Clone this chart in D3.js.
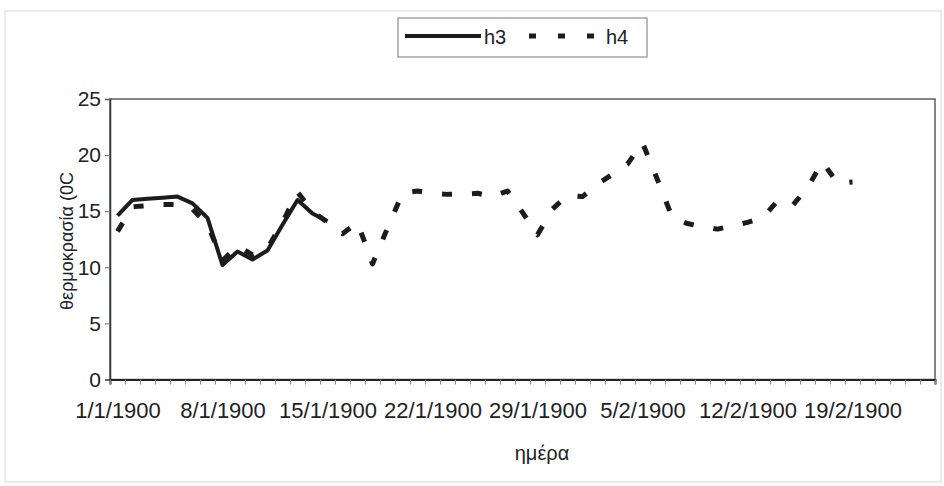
<!DOCTYPE html>
<html>
<head>
<meta charset="utf-8">
<script src="https://cdn.jsdelivr.net/npm/d3@7"></script>
<style>
  html, body { margin: 0; padding: 0; background: #ffffff; }
  svg { display: block; }
  text { font-family: Arial, "Liberation Sans", sans-serif; fill: #222; }
</style>
</head>
<body>
<svg id="chart" width="944" height="486"></svg>
<script>
// ---- data ----
const startDate = "1/1/1900";
const endDate = "25/2/1900";           // axis ends here (exclusive day boundary)
const seriesNames = ["h3", "h4"];
const h3 = [14.6, 16.0, 16.1, 16.2, 16.3, 15.7, 14.4, 10.2, 11.4, 10.7,
            11.5, 13.8, 16.0, 14.8, 14.1];
const h4 = [13.2, 15.4, 15.5, 15.6, 15.6, 15.2, 13.8, 10.6, 11.9, 11.1,
            11.7, 14.0, 16.7, 15.0, 14.0, 13.0, 14.0, 10.3, 13.5, 16.6,
            16.8, 16.6, 16.5, 16.5, 16.6, 16.3, 16.8, 14.9, 12.9, 15.2,
            16.4, 16.3, 17.4, 18.3, 19.2, 21.1, 17.8, 14.4, 13.9, 13.6,
            13.4, 13.7, 14.0, 14.4, 15.9, 15.5, 17.1, 19.4, 17.5, 17.6];
const xTickLabels = ["1/1/1900", "8/1/1900", "15/1/1900", "22/1/1900",
                     "29/1/1900", "5/2/1900", "12/2/1900", "19/2/1900"];
const yTicks = [0, 5, 10, 15, 20, 25];
const yTitle = "θερμοκρασία (0C";
const xTitle = "ημέρα";

// ---- layout ----
const FONT = "Arial, 'Liberation Sans', sans-serif";
const parse = d3.utcParse("%d/%m/%Y");
const fmt = d3.utcFormat("%-d/%-m/%Y");
const t0 = parse(startDate), t1 = parse(endDate);
const mid = d => d3.utcHour.offset(d, 12);
const dateAt = i => d3.utcDay.offset(t0, i);

const plot = { left: 110, right: 935, top: 99, bottom: 379.5 };
const x = d3.scaleUtc().domain([t0, t1]).range([plot.left, plot.right]);
const y = d3.scaleLinear().domain([0, 25]).range([plot.bottom, plot.top]);

const svg = d3.select("#chart");

// outer faint frame
svg.append("rect").attr("x", 5).attr("y", 11).attr("width", 936).attr("height", 471)
  .attr("fill", "none").attr("stroke", "#d8d8d8").attr("stroke-width", 1);

// plot area border
svg.append("rect").attr("x", plot.left).attr("y", plot.top)
  .attr("width", plot.right - plot.left).attr("height", plot.bottom - plot.top)
  .attr("fill", "#fff").attr("stroke", "#5a5f63").attr("stroke-width", 1.5);

// y axis
const yAxis = svg.append("g").attr("transform", `translate(${plot.left},0)`)
  .call(d3.axisLeft(y).tickValues(yTicks).tickSize(5).tickPadding(4).tickFormat(d3.format("d")));
yAxis.select(".domain").attr("stroke", "#333").attr("stroke-width", 1.5);
yAxis.selectAll(".tick line").attr("stroke", "#666");
yAxis.selectAll("text").attr("font-size", 21).style("font-family", FONT).attr("fill", "#222");

// x axis: daily minor ticks at day boundaries
const xMinor = svg.append("g").attr("transform", `translate(0,${plot.bottom})`)
  .call(d3.axisBottom(x).ticks(d3.utcDay.every(1)).tickSize(5).tickFormat(""));
xMinor.select(".domain").attr("stroke", "#222").attr("stroke-width", 2);
xMinor.selectAll(".tick line").attr("stroke", "#888");

// x axis labels centred on their day
const xLab = svg.append("g").attr("transform", `translate(0,${plot.bottom})`)
  .call(d3.axisBottom(x).tickValues(xTickLabels.map(s => mid(parse(s))))
    .tickSize(0).tickPadding(23).tickFormat(fmt));
xLab.select(".domain").remove();
xLab.selectAll("text").attr("font-size", 22).style("font-family", FONT).attr("fill", "#222");

// axis titles
svg.append("text").attr("x", 542).attr("y", 460).attr("text-anchor", "middle")
  .attr("font-size", 20).text(xTitle);
svg.append("text").attr("transform", "translate(73,241) rotate(-90)")
  .attr("text-anchor", "middle").attr("font-size", 18).text(yTitle);

// lines
const line = d3.line().x((d, i) => x(mid(dateAt(i)))).y(d => y(d));
svg.append("path").datum(h4).attr("d", line)
  .attr("fill", "none").attr("stroke", "#1c1c1c").attr("stroke-width", 5)
  .attr("stroke-dasharray", "10,20").attr("stroke-linejoin", "round");
svg.append("path").datum(h3).attr("d", line)
  .attr("fill", "none").attr("stroke", "#1c1c1c").attr("stroke-width", 4)
  .attr("stroke-linejoin", "round");

// legend
const lg = svg.append("g");
lg.append("rect").attr("x", 398).attr("y", 18).attr("width", 249).attr("height", 39)
  .attr("fill", "#fff").attr("stroke", "#777").attr("stroke-width", 1);
lg.append("line").attr("x1", 405).attr("x2", 481).attr("y1", 36).attr("y2", 36)
  .attr("stroke", "#1c1c1c").attr("stroke-width", 4);
lg.append("text").attr("x", 484).attr("y", 44).attr("font-size", 20).text(seriesNames[0]);
lg.append("line").attr("x1", 529).attr("x2", 594).attr("y1", 36).attr("y2", 36)
  .attr("stroke", "#1c1c1c").attr("stroke-width", 5).attr("stroke-dasharray", "7,22");
lg.append("text").attr("x", 606).attr("y", 44).attr("font-size", 20).text(seriesNames[1]);
</script>
</body>
</html>
